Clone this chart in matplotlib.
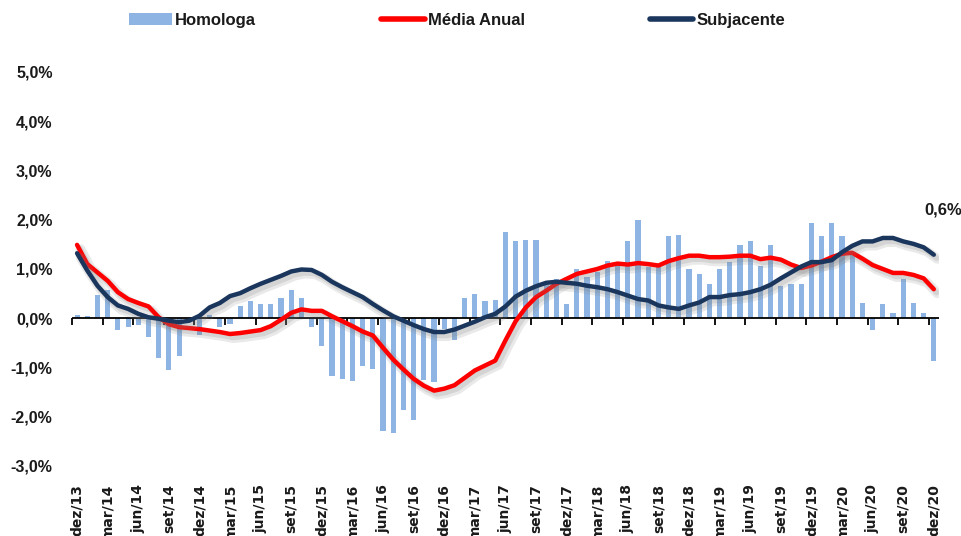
import matplotlib
matplotlib.use("Agg")
import matplotlib.pyplot as plt
import matplotlib.patheffects as pe
from matplotlib.lines import Line2D
from matplotlib.patches import Patch
import numpy as np

tick_labels = ['dez/13', 'mar/14', 'jun/14', 'set/14', 'dez/14', 'mar/15', 'jun/15', 'set/15',
               'dez/15', 'mar/16', 'jun/16', 'set/16', 'dez/16', 'mar/17', 'jun/17', 'set/17',
               'dez/17', 'mar/18', 'jun/18', 'set/18', 'dez/18', 'mar/19', 'jun/19', 'set/19',
               'dez/19', 'mar/20', 'jun/20', 'set/20', 'dez/20']

homologa = [0.07, 0.04, 0.47, 0.57, -0.24, -0.18, -0.14, -0.38, -0.80, -1.06, -0.77, -0.05,
            -0.34, 0.07, -0.18, -0.11, 0.24, 0.34, 0.28, 0.28, 0.41, 0.57, 0.41, -0.18,
            -0.57, -1.17, -1.23, -1.27, -0.97, -1.03, -2.28, -2.32, -1.86, -2.06, -1.25, -1.30,
            -0.22, -0.44, 0.41, 0.50, 0.34, 0.37, 1.76, 1.56, 1.59, 1.59, 0.68, 0.80,
            0.28, 1.00, 0.83, 0.94, 1.17, 1.09, 1.56, 1.99, 1.04, 1.04, 1.66, 1.70,
            1.00, 0.90, 0.70, 1.00, 1.14, 1.49, 1.56, 1.07, 1.49, 0.66, 0.70, 0.70,
            1.93, 1.66, 1.93, 1.66, 1.30, 0.30, -0.24, 0.28, 0.11, 0.80, 0.30, 0.11,
            -0.87]

media_anual = [1.49, 1.10, 0.93, 0.76, 0.53, 0.39, 0.31, 0.24, 0.02, -0.12, -0.18, -0.20,
               -0.22, -0.25, -0.28, -0.32, -0.30, -0.27, -0.24, -0.16, -0.03, 0.11, 0.18, 0.15,
               0.15, 0.04, -0.06, -0.16, -0.27, -0.35, -0.60, -0.84, -1.04, -1.23, -1.37, -1.47,
               -1.43, -1.36, -1.21, -1.06, -0.96, -0.86, -0.45, -0.06, 0.22, 0.43, 0.56, 0.70,
               0.80, 0.90, 0.95, 1.00, 1.07, 1.11, 1.09, 1.12, 1.10, 1.07, 1.16, 1.22,
               1.27, 1.27, 1.24, 1.24, 1.25, 1.27, 1.27, 1.20, 1.23, 1.19, 1.09, 1.02,
               1.07, 1.15, 1.24, 1.31, 1.33, 1.21, 1.08, 1.00, 0.92, 0.92, 0.88, 0.81,
               0.59]

subjacente = [1.32, 0.97, 0.66, 0.43, 0.26, 0.19, 0.09, 0.02, -0.01, -0.05, -0.08, -0.05,
              0.05, 0.22, 0.31, 0.45, 0.51, 0.61, 0.70, 0.78, 0.86, 0.95, 0.99, 0.98,
              0.88, 0.74, 0.63, 0.53, 0.43, 0.29, 0.16, 0.04, -0.05, -0.14, -0.22, -0.28,
              -0.28, -0.23, -0.15, -0.07, 0.02, 0.09, 0.24, 0.44, 0.56, 0.65, 0.72, 0.74,
              0.72, 0.70, 0.66, 0.63, 0.59, 0.53, 0.46, 0.39, 0.36, 0.26, 0.22, 0.19,
              0.26, 0.32, 0.43, 0.43, 0.47, 0.49, 0.53, 0.59, 0.68, 0.81, 0.93, 1.05,
              1.14, 1.14, 1.18, 1.34, 1.47, 1.56, 1.56, 1.63, 1.63, 1.56, 1.51, 1.44,
              1.29]

y_ticks = [-3, -2, -1, 0, 1, 2, 3, 4, 5]
end_label = '0,6%'

BAR = '#8DB4E2'
RED = '#FF0000'
NAVY = '#1B365D'
TXT = '#1A1A1A'

narrow = ['Liberation Sans Narrow', 'Liberation Sans', 'DejaVu Sans']

fig = plt.figure(figsize=(9.62, 5.36), dpi=100)
ax = fig.add_axes([0.0748, 0.1306, 0.9012, 0.7351])

n = len(homologa)
x = np.arange(n)

ax.bar(x, homologa, width=0.5, color=BAR, zorder=2)

shadow = [pe.SimpleLineShadow(offset=(2.5, -3), shadow_color='#8a8a8a', alpha=0.18, linewidth=7),
          pe.SimpleLineShadow(offset=(2, -2.5), shadow_color='#7a7a7a', alpha=0.18, linewidth=4),
          pe.Normal()]
ax.plot(x, media_anual, color=RED, lw=3.2, zorder=4, solid_capstyle='round',
        solid_joinstyle='round', path_effects=shadow)
ax.plot(x, subjacente, color=NAVY, lw=3.2, zorder=5, solid_capstyle='round',
        solid_joinstyle='round', path_effects=shadow)

ax.axhline(0, color='black', lw=1.3, zorder=3)

ax.set_xlim(-0.5, n - 0.5)
ax.set_ylim(-3, 5)

for s in ax.spines.values():
    s.set_visible(False)

# category labels at bottom
ax.set_xticks(x[::3])
ax.set_xticklabels(tick_labels, rotation=90, fontsize=10, fontweight='bold', color=TXT,
                   family='DejaVu Sans')
ax.tick_params(axis='x', length=0, pad=13)

ax.set_yticks(y_ticks)
ax.set_yticklabels([f"{v:.1f}%".replace('.', ',') for v in y_ticks], fontsize=11.5,
                   fontweight='bold', color=TXT, family=narrow)
ax.tick_params(axis='y', length=0, pad=14)

# tick marks on the zero axis (between categories, every 3)
sec = ax.secondary_xaxis(3 / 8)
sec.spines['bottom'].set_visible(False)
sec.set_xticks(np.arange(-0.5, n, 3))
sec.set_xticklabels([])
sec.tick_params(axis='x', direction='out', length=5, width=1.3, color='black')

ax.annotate(end_label, xy=(x[-1], media_anual[-1]), xytext=(7, 57), textcoords='offset points',
            ha='center', va='center', fontsize=12, fontweight='bold', color=TXT, family=narrow)

handles = [Patch(facecolor=BAR, edgecolor='none'),
           Line2D([0], [0], color=RED, lw=4, solid_capstyle='round'),
           Line2D([0], [0], color=NAVY, lw=4, solid_capstyle='round')]
leg = fig.legend(handles, ['Homologa', 'Média Anual', 'Subjacente'], loc='center',
                 bbox_to_anchor=(0.475, 0.962), ncol=3, frameon=False, handlelength=2.6,
                 handletextpad=0.2, columnspacing=7.5,
                 prop={'family': narrow, 'weight': 'bold', 'size': 12})
for t in leg.get_texts():
    t.set_color(TXT)

fig.savefig('out.png', dpi=100)
